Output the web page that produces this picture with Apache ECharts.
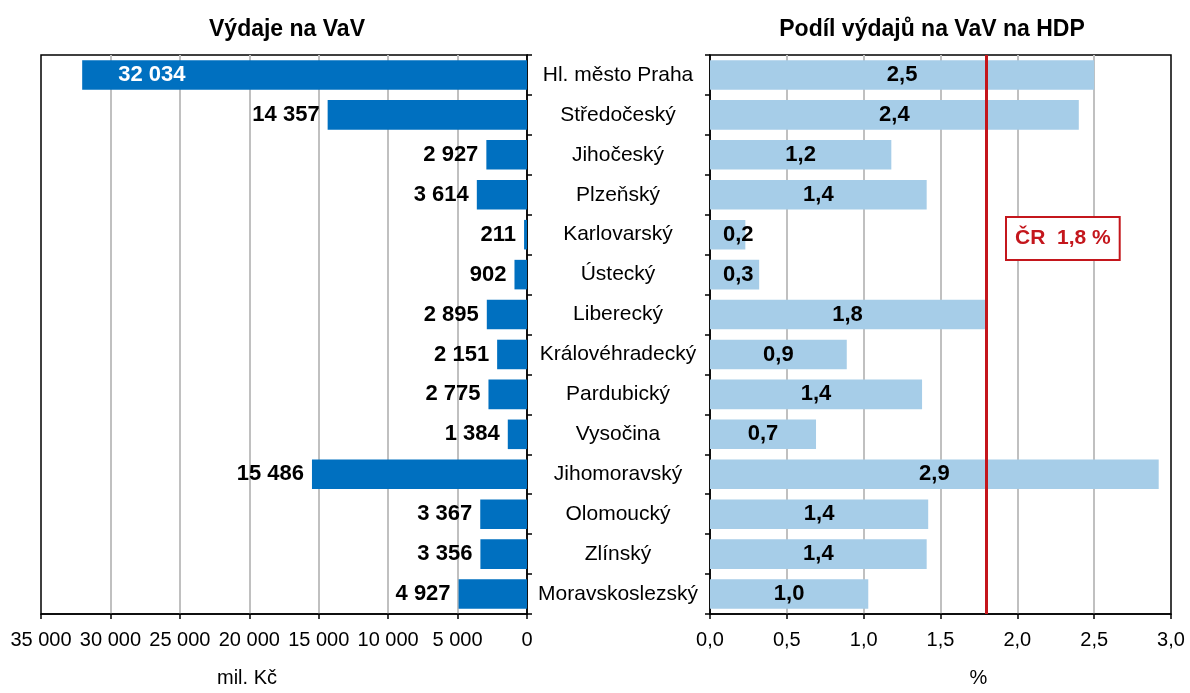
<!DOCTYPE html>
<html>
<head>
<meta charset="utf-8">
<script src="https://cdn.jsdelivr.net/npm/echarts@6/dist/echarts.min.js"></script>
<style>
  html, body { margin: 0; padding: 0; background: #fff; }
  #chart { width: 1190px; height: 693px; }
</style>
</head>
<body>
<div id="chart"></div>
<script>
// kraje
const regions = [
  "Hl. město Praha", "Středočeský", "Jihočeský", "Plzeňský", "Karlovarský",
  "Ústecký", "Liberecký", "Královéhradecký", "Pardubický", "Vysočina",
  "Jihomoravský", "Olomoucký", "Zlínský", "Moravskoslezský"
]
// výdaje na VaV (mil. Kč)
const spending = [32034, 14357, 2927, 3614, 211, 902, 2895, 2151, 2775, 1384, 15486, 3367, 3356, 4927]
// podíl na HDP (%)
const gdpShare = [2.50, 2.40, 1.18, 1.41, 0.23, 0.32, 1.79, 0.89, 1.38, 0.69, 2.92, 1.42, 1.41, 1.03]
const czAverage = 1.8

const FONT = "'Liberation Sans', Arial, sans-serif"
const fmtThousands = (v) => String(v).replace(/\B(?=(\d{3})+(?!\d))/g, " ")
const fmtDecimal = (v) => v.toFixed(1).replace(".", ",")

const myChart = echarts.init(document.getElementById("chart"))

const gridBox = { show: true, borderColor: "#000", borderWidth: 1.5, top: 55, bottom: 73 }
const splitGray = { show: true, showMinLine: false, showMaxLine: false, lineStyle: { color: "#c0c0c0", width: 2 } }
const axisText = { color: "#000", fontFamily: FONT, fontSize: 20 }
const titleText = { fontSize: 23, fontWeight: "bold", color: "#000", fontFamily: FONT }

const option = {
  animation: false,
  textStyle: { fontFamily: FONT },
  title: [
    { text: "Výdaje na VaV", left: 282, top: 13, textAlign: "center", textStyle: titleText },
    { text: "Podíl výdajů na VaV na HDP", left: 927, top: 13, textAlign: "center", textStyle: titleText }
  ],
  grid: [
    Object.assign({ left: 41, right: 663 }, gridBox),
    Object.assign({ left: 710, right: 19 }, gridBox)
  ],
  xAxis: [
    {
      gridIndex: 0,
      type: "value",
      inverse: true,
      min: 0,
      max: 35000,
      interval: 5000,
      axisLine: { show: true, lineStyle: { color: "#000", width: 1.5 } },
      axisTick: { show: true, length: 5, lineStyle: { color: "#000", width: 1.5 } },
      axisLabel: Object.assign({ margin: 16, formatter: fmtThousands }, axisText),
      splitLine: splitGray,
      name: "mil. Kč",
      nameLocation: "middle",
      nameGap: 54,
      nameTextStyle: { color: "#000", fontSize: 20, fontFamily: FONT, padding: [0, 74, 0, 0] }
    },
    {
      gridIndex: 1,
      type: "value",
      min: 0,
      max: 3,
      interval: 0.5,
      axisLine: { show: true, lineStyle: { color: "#000", width: 1.5 } },
      axisTick: { show: true, length: 5, lineStyle: { color: "#000", width: 1.5 } },
      axisLabel: Object.assign({ margin: 16, formatter: fmtDecimal }, axisText),
      splitLine: splitGray,
      name: "%",
      nameLocation: "middle",
      nameGap: 54,
      nameTextStyle: { color: "#000", fontSize: 20, fontFamily: FONT, padding: [0, 0, 0, 76] }
    }
  ],
  yAxis: [
    {
      gridIndex: 0,
      type: "category",
      data: regions,
      inverse: true,
      position: "right",
      axisLine: { show: true, lineStyle: { color: "#000", width: 1.5 } },
      axisTick: { show: true, length: 5, lineStyle: { color: "#000", width: 1.5 } },
      axisLabel: { show: false }
    },
    {
      gridIndex: 1,
      type: "category",
      data: regions,
      inverse: true,
      position: "left",
      axisLine: { show: true, lineStyle: { color: "#000", width: 1.5 } },
      axisTick: { show: true, length: 5, lineStyle: { color: "#000", width: 1.5 } },
      axisLabel: { margin: 92, align: "center", fontSize: 21, color: "#000", fontFamily: FONT }
    }
  ],
  series: [
    {
      type: "bar",
      xAxisIndex: 0,
      yAxisIndex: 0,
      barCategoryGap: "26%",
      itemStyle: { color: "#0070c0" },
      data: spending.map((v, i) => {
        // nejvyšší hodnota má popisek uvnitř sloupce
        if (i === 0) {
          return { value: v, label: { position: "insideLeft", distance: 36, color: "#fff" } }
        }
        return v
      }),
      label: {
        show: true,
        position: "left",
        distance: 8,
        color: "#000",
        fontWeight: "bold",
        fontSize: 22,
        fontFamily: FONT,
        formatter: (p) => fmtThousands(p.value)
      }
    },
    {
      type: "bar",
      xAxisIndex: 1,
      yAxisIndex: 1,
      barCategoryGap: "26%",
      itemStyle: { color: "#a6cde8" },
      data: gdpShare.map((v) => {
        if (v < 0.5) {
          return { value: v, label: { position: "insideLeft", distance: 13 } }
        }
        return v
      }),
      label: {
        show: true,
        position: "inside",
        color: "#000",
        fontWeight: "bold",
        fontSize: 22,
        fontFamily: FONT,
        formatter: (p) => fmtDecimal(p.value)
      },
      markLine: {
        silent: true,
        symbol: "none",
        label: { show: false },
        lineStyle: { color: "#c4161c", width: 3, type: "solid" },
        data: [{ xAxis: czAverage }]
      }
    }
  ],
  graphic: [
    {
      type: "text",
      left: 1005,
      top: 216,
      z: 100,
      style: {
        text: "ČR  " + fmtDecimal(czAverage) + " %",
        fontSize: 21,
        fontWeight: "bold",
        fontFamily: FONT,
        fill: "#c4161c",
        backgroundColor: "#fff",
        borderColor: "#c4161c",
        borderWidth: 2,
        padding: [10, 8, 10, 8]
      }
    }
  ]
}

myChart.setOption(option)
window.addEventListener("resize", () => {
  myChart.resize()
})
</script>
</body>
</html>
